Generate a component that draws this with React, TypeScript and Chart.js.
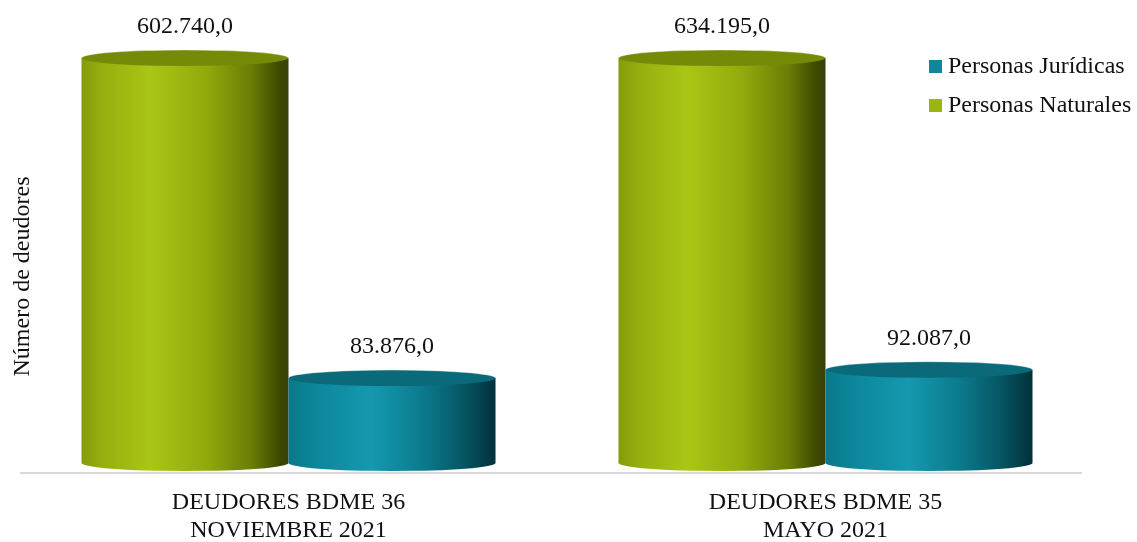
import React, { useEffect, useRef } from "react";
import { Chart, registerables } from "chart.js";

Chart.register(...registerables);

const categories: string[][] = [
  ["DEUDORES BDME 36", "NOVIEMBRE 2021"],
  ["DEUDORES BDME 35", "MAYO 2021"],
];
const seriesNames = ["Personas Naturales", "Personas Jurídicas"];
const naturales = [602740, 634195];
const juridicas = [83876, 92087];
const yMin = 0;
const yMax = 400000;
const yTitle = "Número de deudores";

const FONT = '"Liberation Serif", "Times New Roman", serif';

const styles = [
  {
    stops: [
      [0, "#869b0a"],
      [0.1, "#97ae0e"],
      [0.33, "#aac615"],
      [0.6, "#93aa0c"],
      [0.82, "#6b7d05"],
      [0.96, "#3c4800"],
      [1, "#36400a"],
    ],
    top: "#758b08",
    legend: "#9ab80c",
  },
  {
    stops: [
      [0, "#0a788a"],
      [0.12, "#0c8599"],
      [0.4, "#1599af"],
      [0.65, "#0b7a8c"],
      [0.85, "#065563"],
      [1, "#02303a"],
    ],
    top: "#0a6a7a",
    legend: "#10869a",
  },
];

function fmt(v: number): string {
  return Math.round(v).toString().replace(/\B(?=(\d{3})+(?!\d))/g, ".") + ",0";
}

const cylinderPlugin = {
  id: "cylinders",
  beforeDatasetsDraw(chart: any) {
    const { ctx, chartArea } = chart;
    ctx.save();
    ctx.strokeStyle = "#d9d9d9";
    ctx.lineWidth = 2;
    ctx.beginPath();
    ctx.moveTo(chartArea.left, chartArea.bottom + 10);
    ctx.lineTo(chartArea.right - 12, chartArea.bottom + 10);
    ctx.stroke();
    ctx.restore();
  },
  afterDatasetsDraw(chart: any) {
    const { ctx, chartArea } = chart;
    ctx.save();
    chart.data.datasets.forEach((ds: any, di: number) => {
      const meta = chart.getDatasetMeta(di);
      const st = styles[di];
      meta.data.forEach((el: any, i: number) => {
        const w = el.width;
        const cx = el.x;
        const l = cx - w / 2;
        const r = cx + w / 2;
        const rx = w / 2;
        const ry = 8;
        const yTop = Math.max(el.y, chartArea.top);
        const yBase = el.base;
        const g = ctx.createLinearGradient(l, 0, r, 0);
        st.stops.forEach((s: any) => g.addColorStop(s[0], s[1]));
        ctx.beginPath();
        ctx.moveTo(l, yTop);
        ctx.lineTo(l, yBase);
        ctx.ellipse(cx, yBase, rx, ry, 0, Math.PI, 0, true);
        ctx.lineTo(r, yTop);
        ctx.closePath();
        ctx.fillStyle = g;
        ctx.fill();
        ctx.beginPath();
        ctx.ellipse(cx, yTop, rx, ry, 0, 0, Math.PI * 2);
        ctx.fillStyle = st.top;
        ctx.fill();
        ctx.strokeStyle = "rgba(255,255,255,0.35)";
        ctx.lineWidth = 1;
        ctx.beginPath();
        ctx.ellipse(cx, yTop, rx, ry, 0, Math.PI, 0, false);
        ctx.stroke();
        // value label
        ctx.fillStyle = "#111";
        ctx.font = `24px ${FONT}`;
        ctx.textAlign = "center";
        ctx.textBaseline = "middle";
        ctx.fillText(fmt(ds.data[i]), cx, yTop - 31);
      });
    });
    // legend (reverse order, as in reference)
    const lx = chart.width - 208;
    const ly = 66;
    const rows = [1, 0];
    rows.forEach((di, k) => {
      const y = ly + k * 39;
      ctx.fillStyle = styles[di].legend;
      ctx.fillRect(lx, y - 6, 13, 13);
      ctx.fillStyle = "#111";
      ctx.font = `24px ${FONT}`;
      ctx.textAlign = "left";
      ctx.textBaseline = "middle";
      ctx.fillText(chart.data.datasets[di].label, lx + 19, y + 1);
    });
    // y title
    ctx.save();
    ctx.translate(chartArea.left + 3, (chartArea.top + chartArea.bottom) / 2 + 16);
    ctx.rotate(-Math.PI / 2);
    ctx.fillStyle = "#111";
    ctx.font = `24px ${FONT}`;
    ctx.textAlign = "center";
    ctx.textBaseline = "middle";
    ctx.fillText(yTitle, 0, 0);
    ctx.restore();
    ctx.restore();
  },
};

export default function App() {
  const ref = useRef<HTMLCanvasElement | null>(null);
  useEffect(() => {
    document.body.style.margin = "0";
    if (!ref.current) return;
    const chart = new Chart(ref.current, {
      type: "bar",
      data: {
        labels: categories,
        datasets: [
          {
            label: seriesNames[0],
            data: naturales,
            backgroundColor: "rgba(0,0,0,0)",
            borderWidth: 0,
          },
          {
            label: seriesNames[1],
            data: juridicas,
            backgroundColor: "rgba(0,0,0,0)",
            borderWidth: 0,
          },
        ],
      },
      options: {
        animation: false,
        responsive: false,
        maintainAspectRatio: false,
        events: [],
        layout: { padding: { left: 20, right: 43, top: 58, bottom: 0 } },
        datasets: { bar: { categoryPercentage: 0.771, barPercentage: 1 } },
        plugins: {
          legend: { display: false },
          tooltip: { enabled: false },
        },
        scales: {
          x: {
            grid: { display: false },
            border: { display: false },
            ticks: {
              color: "#111",
              font: { family: FONT, size: 24, lineHeight: 1.2 },
              maxRotation: 0,
              autoSkip: false,
              padding: 17,
            },
            afterFit(scale: any) {
              scale.height = 79;
            },
          },
          y: {
            display: false,
            min: yMin,
            max: yMax,
          },
        },
      },
      plugins: [cylinderPlugin],
    });
    return () => chart.destroy();
  }, []);
  return (
    <div style={{ width: 1137, height: 542 }}>
      <canvas ref={ref} width={1137} height={542} style={{ display: "block" }} />
    </div>
  );
}
